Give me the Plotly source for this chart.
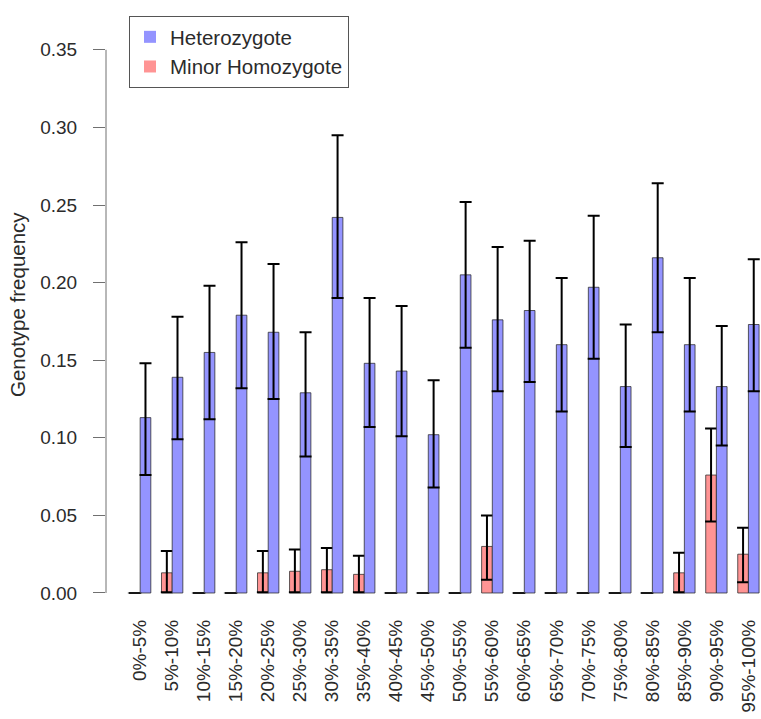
import plotly.graph_objects as go

# Allele-frequency bins
categories = ["0%-5%", "5%-10%", "10%-15%", "15%-20%", "20%-25%", "25%-30%",
              "30%-35%", "35%-40%", "40%-45%", "45%-50%", "50%-55%", "55%-60%",
              "60%-65%", "65%-70%", "70%-75%", "75%-80%", "80%-85%", "85%-90%",
              "90%-95%", "95%-100%"]

# Heterozygote frequency with confidence bounds
het = [0.113, 0.139, 0.155, 0.179, 0.168, 0.129, 0.242, 0.148, 0.143, 0.102,
       0.205, 0.176, 0.182, 0.160, 0.197, 0.133, 0.216, 0.160, 0.133, 0.173]
het_lo = [0.076, 0.099, 0.112, 0.132, 0.125, 0.088, 0.190, 0.107, 0.101, 0.068,
          0.158, 0.130, 0.136, 0.117, 0.151, 0.094, 0.168, 0.117, 0.095, 0.130]
het_hi = [0.148, 0.178, 0.198, 0.226, 0.212, 0.168, 0.295, 0.190, 0.185, 0.137,
          0.252, 0.223, 0.227, 0.203, 0.243, 0.173, 0.264, 0.203, 0.172, 0.215]

# Minor homozygote frequency with confidence bounds (None = no interval)
hom = [0.0, 0.013, 0.0, 0.0, 0.013, 0.014, 0.015, 0.012, 0.0, 0.0,
       0.0, 0.030, 0.0, 0.0, 0.0, 0.0, 0.0, 0.013, 0.076, 0.025]
hom_lo = [None, 0.0005, None, None, 0.0005, 0.0005, 0.0005, 0.0005, None, None,
          None, 0.0085, None, None, None, None, None, 0.0005, 0.046, 0.007]
hom_hi = [None, 0.027, None, None, 0.027, 0.028, 0.029, 0.024, None, None,
          None, 0.050, None, None, None, None, None, 0.026, 0.106, 0.042]

y_ticks = [0.00, 0.05, 0.10, 0.15, 0.20, 0.25, 0.30, 0.35]

BLUE = "#9494FF"
RED = "#FF9494"
EDGE = "rgba(40,40,40,0.75)"
FONT = "Liberation Sans, Arial, sans-serif"
TXT = "#2b2b2b"

# grouped layout: one empty slot, then red bar, then blue bar in each group
n = len(categories)
x_red = [1.5 + 3 * i for i in range(n)]
x_blue = [2.5 + 3 * i for i in range(n)]
x_mid = [2.0 + 3 * i for i in range(n)]


def plus(v, hi):
    return [float("nan") if h is None else h - a for a, h in zip(v, hi)]


def minus(v, lo):
    return [float("nan") if l is None else a - l for a, l in zip(v, lo)]


err_style = dict(type="data", symmetric=False, color="black", thickness=2, width=6)

fig = go.Figure()

fig.add_trace(go.Bar(
    x=x_red, y=hom, width=1, showlegend=False,
    marker=dict(color=RED, line=dict(color=EDGE, width=1)),
    error_y=dict(array=plus(hom, hom_hi), arrayminus=minus(hom, hom_lo), **err_style),
))
fig.add_trace(go.Bar(
    x=x_blue, y=het, width=1, showlegend=False,
    marker=dict(color=BLUE, line=dict(color=EDGE, width=1)),
    error_y=dict(array=plus(het, het_hi), arrayminus=minus(het, het_lo), **err_style),
))

# zero-height bars still leave their outline on the baseline
zero_x = [x for x, v in zip(x_red, hom) if v == 0]
fig.add_trace(go.Scatter(
    x=zero_x, y=[0] * len(zero_x), mode="markers", showlegend=False,
    hoverinfo="skip",
    marker=dict(symbol="line-ew", size=10, line=dict(color="rgba(60,60,60,0.8)", width=1)),
))

# legend entries
fig.add_trace(go.Scatter(x=[None], y=[None], mode="markers", name="Heterozygote",
                         marker=dict(symbol="square", size=9, color=BLUE)))
fig.add_trace(go.Scatter(x=[None], y=[None], mode="markers", name="Minor Homozygote",
                         marker=dict(symbol="square", size=9, color=RED)))

W, H = 761, 719
L, R, T, B = 106, 0, 20, 104
plot_h = H - T - B

# y axis line spanning only the labelled range
fig.add_shape(type="line", xref="paper", yref="y", x0=0, x1=0, y0=0, y1=0.35,
              line=dict(color="#707070", width=1))

fig.add_annotation(text="Genotype frequency", textangle=-90, showarrow=False,
                   xref="paper", yref="paper",
                   x=(17 - L) / (W - L - R), y=(H - B - 305) / plot_h,
                   xanchor="center", yanchor="middle",
                   font=dict(family=FONT, size=20.5, color=TXT))

fig.update_layout(
    width=W, height=H,
    margin=dict(l=L, r=R, t=T, b=B, pad=0),
    paper_bgcolor="white", plot_bgcolor="white",
    barmode="overlay",
    font=dict(family=FONT, size=19, color=TXT),
    legend=dict(
        x=(129 - L) / (W - L - R), y=(H - B - 16) / plot_h,
        xanchor="left", yanchor="top",
        bgcolor="white", bordercolor="#555555", borderwidth=1,
        font=dict(family=FONT, size=20.5, color=TXT),
        itemsizing="constant", tracegroupgap=0,
    ),
    xaxis=dict(
        range=[-1.2, 60.18], showgrid=False, zeroline=False, showline=False,
        tickmode="array", tickvals=x_mid, ticktext=categories,
        tickangle=-90, ticks="", ticklen=0,
        tickfont=dict(family=FONT, size=19, color=TXT),
        fixedrange=True,
    ),
    yaxis=dict(
        range=[-0.01418, 0.3692], showgrid=False, zeroline=False, showline=False,
        tickmode="array", tickvals=y_ticks,
        ticktext=[f"{v:.2f}" for v in y_ticks],
        ticks="outside", ticklen=12, tickcolor="#707070", tickwidth=1,
        ticklabelstandoff=12,
        tickfont=dict(family=FONT, size=19, color=TXT),
        fixedrange=True,
    ),
)

fig.write_html("out.html")
